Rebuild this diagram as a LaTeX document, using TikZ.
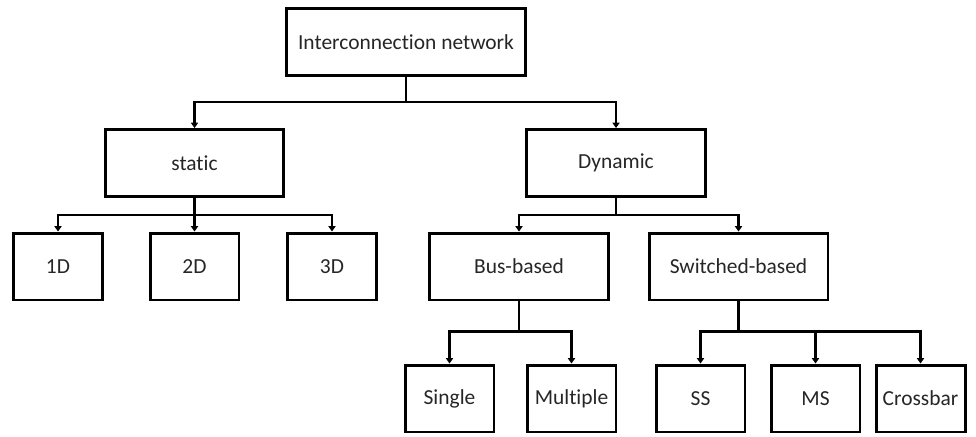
\documentclass[tikz,border=0pt]{standalone}
\usepackage{fontspec}
\setmainfont{Carlito}[Ligatures=NoCommon]
\usetikzlibrary{arrows.meta,calc}
\definecolor{LineClr}{rgb}{0,0,0}
\definecolor{TextClr}{rgb}{0.15,0.15,0.15}
\tikzset{
  box/.style={draw=LineClr,line width=1.7pt,fill=white,text=TextClr,
    minimum height=1.34cm,inner sep=0pt,font=\fontsize{12.2}{14}\selectfont},
  wide/.style={box,minimum width=3.58cm},
  narrow/.style={box,minimum width=1.78cm},
  link/.style={draw=LineClr,line width=1.5pt,-{Triangle[length=3pt,width=4pt]}}
}

\begin{document}
\begin{tikzpicture}[x=0.02cm,y=-0.02cm]
\useasboundingbox (0,0) rectangle (976,436);

\node[box,minimum width=4.78cm] (net) at (406,42) {Interconnection network};

\node[wide] (static) at (194.5,163) {static};
\node[wide] (dynamic) at (616,163) {Dynamic};

\node[narrow] (d1) at (58,266.5) {1D};
\node[narrow] (d2) at (194.5,266.5) {2D};
\node[narrow] (d3) at (332,266.5) {3D};

\node[wide] (bus) at (519,266.5) {Bus-based};
\node[wide] (switched) at (738.5,266.5) {Switched-based};

\node[narrow] (single) at (449.5,398.5) {Single};
\node[narrow] (multiple) at (571.5,398.5) {Multiple};
\node[narrow] (ss) at (700.5,398.5) {SS};
\node[narrow] (ms) at (815.5,398.5) {MS};
\node[narrow] (crossbar) at (920.5,398.5) {Crossbar};

% connectors
\foreach \n in {static,dynamic}
  \draw[link] (net.south) -- ++(0,25) -| (\n.north);
\foreach \n in {d1,d2,d3}
  \draw[link] (static.south) -- ++(0,17) -| (\n.north);
\foreach \n in {bus,switched}
  \draw[link] (dynamic.south) -- ++(0,17) -| (\n.north);
\foreach \n in {single,multiple}
  \draw[link] (bus.south) -- ++(0,30) -| (\n.north);
\foreach \n in {ss,ms,crossbar}
  \draw[link] (switched.south) -- ++(0,30) -| (\n.north);

\end{tikzpicture}
\end{document}
